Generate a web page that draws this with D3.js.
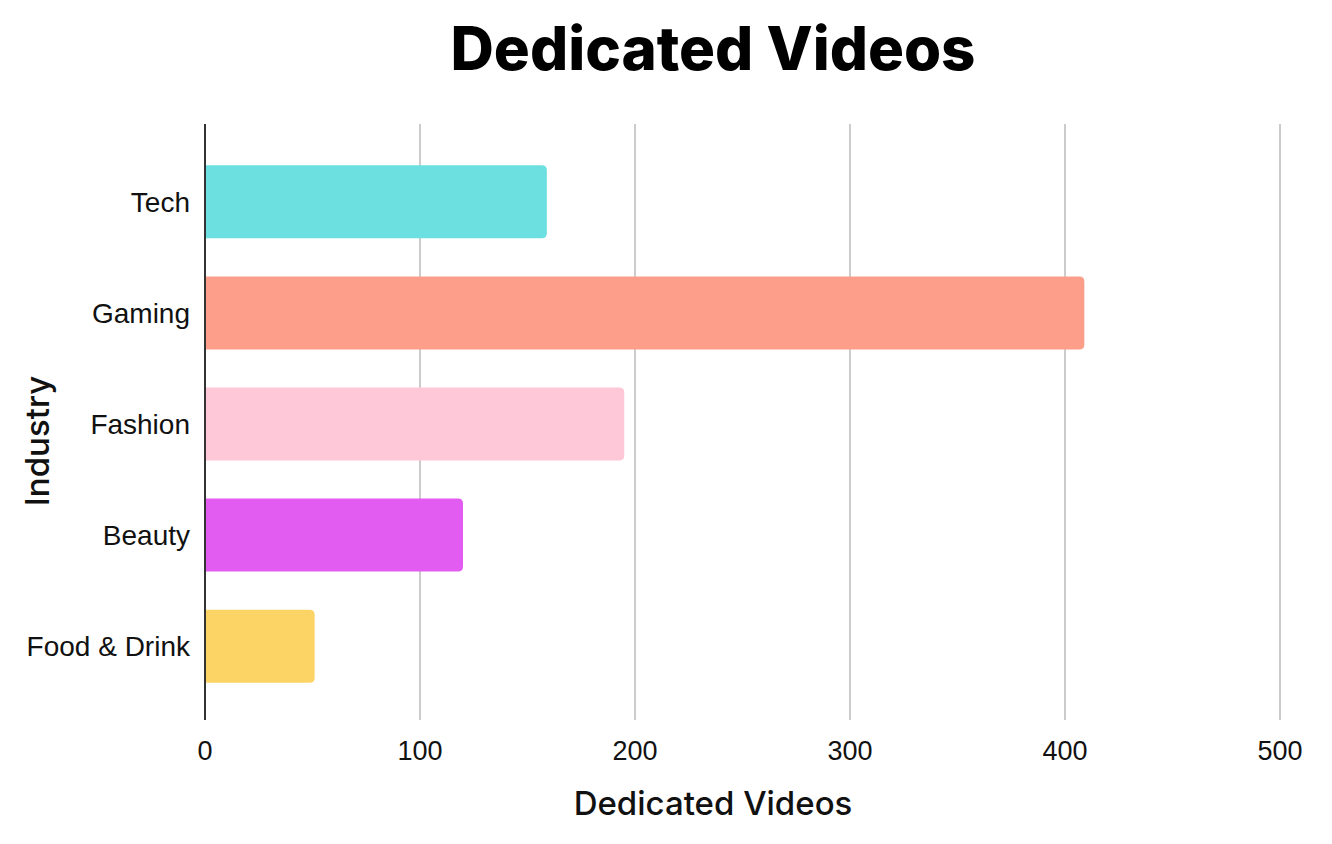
<!DOCTYPE html>
<html>
<head>
<meta charset="utf-8">
<script src="https://cdn.jsdelivr.net/npm/d3@7"></script>
<style>
  html, body { margin: 0; padding: 0; background: #fff; }
  svg { display: block; }
</style>
</head>
<body>
<svg id="chart" width="1332" height="844"></svg>
<script>
// Dedicated videos per industry
const industries = ["Tech", "Gaming", "Fashion", "Beauty", "Food & Drink"];
const videos = [159, 409, 195, 120, 51];
const barColors = ["#6ce0e0", "#fc9e8a", "#fec8d8", "#e35cf2", "#fcd465"];
const xTicks = [0, 100, 200, 300, 400, 500];

const svg = d3.select("#chart");
const plotTop = 124, plotBottom = 720;

const x = d3.scaleLinear().domain([0, 500]).range([205, 1280]);
const y = d3.scaleBand().domain(industries).range([plotTop + 2, plotBottom + 2])
  .paddingInner(0.343).paddingOuter(0.354);

const headFont = "Inter, 'Open Sans', sans-serif";
const tickFont = "'Liberation Sans', Arial, sans-serif";

// vertical gridlines
svg.append("g").selectAll("line").data(xTicks.filter(t => t > 0)).join("line")
  .attr("x1", d => x(d)).attr("x2", d => x(d))
  .attr("y1", plotTop).attr("y2", plotBottom)
  .attr("stroke", "#cccccc").attr("stroke-width", 2);

// bars, rounded at the value end
const r = 5;
const barPath = (d, i) => {
  const bx = x(0), by = y(industries[i]), bw = x(d) - x(0), bh = y.bandwidth();
  return `M${bx},${by}H${bx + bw - r}Q${bx + bw},${by} ${bx + bw},${by + r}` +
         `V${by + bh - r}Q${bx + bw},${by + bh} ${bx + bw - r},${by + bh}H${bx}Z`;
};
svg.append("g").selectAll("path").data(videos).join("path")
  .attr("d", barPath)
  .attr("fill", (d, i) => barColors[i]);

// y axis line
svg.append("line")
  .attr("x1", x(0)).attr("x2", x(0)).attr("y1", plotTop).attr("y2", plotBottom)
  .attr("stroke", "#333").attr("stroke-width", 2);

// category labels
svg.append("g").selectAll("text").data(industries).join("text")
  .attr("x", x(0) - 15)
  .attr("y", d => y(d) + y.bandwidth() / 2)
  .attr("dy", "0.35em")
  .attr("text-anchor", "end")
  .attr("font-family", tickFont).attr("font-size", 28).attr("fill", "#111")
  .text(d => d);

// x tick labels
svg.append("g").selectAll("text").data(xTicks).join("text")
  .attr("x", d => x(d))
  .attr("y", 760)
  .attr("text-anchor", "middle")
  .attr("font-family", tickFont).attr("font-size", 27).attr("fill", "#111")
  .text(d => d);

// title
svg.append("text")
  .attr("x", 713).attr("y", 70)
  .attr("text-anchor", "middle")
  .attr("font-family", headFont).attr("font-weight", 800).attr("font-size", 60)
  .attr("fill", "#000")
  .text("Dedicated Videos");

// x axis title
svg.append("text")
  .attr("x", 713).attr("y", 815)
  .attr("text-anchor", "middle")
  .attr("font-family", headFont).attr("font-weight", 500).attr("font-size", 33)
  .attr("fill", "#111")
  .text("Dedicated Videos");

// y axis title
svg.append("text")
  .attr("transform", "translate(49,441) rotate(-90)")
  .attr("text-anchor", "middle")
  .attr("font-family", headFont).attr("font-weight", 500).attr("font-size", 33)
  .attr("fill", "#111")
  .text("Industry");
</script>
</body>
</html>
